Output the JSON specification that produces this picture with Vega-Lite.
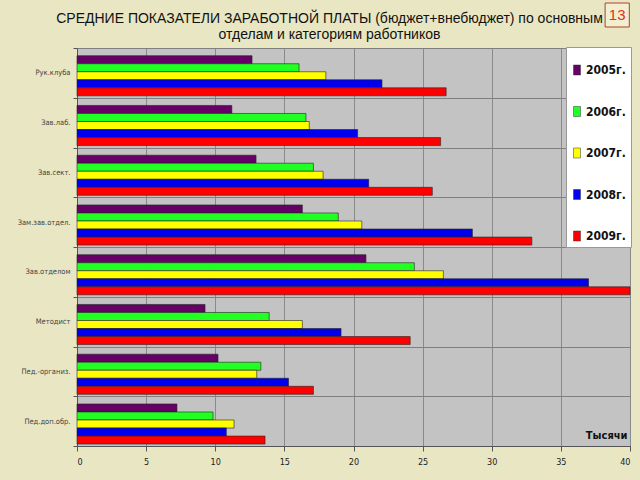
{
  "$schema": "https://vega.github.io/schema/vega-lite/v6.json",
  "width": 553,
  "height": 398,
  "autosize": {"type": "none"},
  "padding": {"left": 77, "top": 48, "right": 10, "bottom": 34},
  "background": "#e9e7c3",
  "title": {
    "text": ["СРЕДНИЕ ПОКАЗАТЕЛИ ЗАРАБОТНОЙ ПЛАТЫ (бюджет+внебюджет) по основным", "отделам и категориям работников"],
    "anchor": "middle",
    "frame": "group",
    "dx": -24,
    "dy": 45,
    "offset": 6,
    "fontSize": 14,
    "font": "Liberation Sans",
    "fontWeight": "normal",
    "color": "#111111",
    "lineHeight": 16
  },
  "config": {
    "view": {"fill": "#c3c3c3", "stroke": "#7a7a7a"}
  },
  "layer": [
    {
      "data": {
        "values": [
          {"cat": "Рук.клуба", "year": "2005г.", "v": 12.66},
          {"cat": "Рук.клуба", "year": "2006г.", "v": 16.06},
          {"cat": "Рук.клуба", "year": "2007г.", "v": 18.0},
          {"cat": "Рук.клуба", "year": "2008г.", "v": 22.06},
          {"cat": "Рук.клуба", "year": "2009г.", "v": 26.7},
          {"cat": "Зав.лаб.", "year": "2005г.", "v": 11.2},
          {"cat": "Зав.лаб.", "year": "2006г.", "v": 16.56},
          {"cat": "Зав.лаб.", "year": "2007г.", "v": 16.8},
          {"cat": "Зав.лаб.", "year": "2008г.", "v": 20.3},
          {"cat": "Зав.лаб.", "year": "2009г.", "v": 26.3},
          {"cat": "Зав.сект.", "year": "2005г.", "v": 12.95},
          {"cat": "Зав.сект.", "year": "2006г.", "v": 17.1},
          {"cat": "Зав.сект.", "year": "2007г.", "v": 17.8},
          {"cat": "Зав.сект.", "year": "2008г.", "v": 21.1},
          {"cat": "Зав.сект.", "year": "2009г.", "v": 25.7},
          {"cat": "Зам.зав.отдел.", "year": "2005г.", "v": 16.3},
          {"cat": "Зам.зав.отдел.", "year": "2006г.", "v": 18.9},
          {"cat": "Зам.зав.отдел.", "year": "2007г.", "v": 20.6},
          {"cat": "Зам.зав.отдел.", "year": "2008г.", "v": 28.6},
          {"cat": "Зам.зав.отдел.", "year": "2009г.", "v": 32.9},
          {"cat": "Зав.отделом", "year": "2005г.", "v": 20.9},
          {"cat": "Зав.отделом", "year": "2006г.", "v": 24.4},
          {"cat": "Зав.отделом", "year": "2007г.", "v": 26.5},
          {"cat": "Зав.отделом", "year": "2008г.", "v": 37.0},
          {"cat": "Зав.отделом", "year": "2009г.", "v": 40.0},
          {"cat": "Методист", "year": "2005г.", "v": 9.26},
          {"cat": "Методист", "year": "2006г.", "v": 13.9},
          {"cat": "Методист", "year": "2007г.", "v": 16.3},
          {"cat": "Методист", "year": "2008г.", "v": 19.1},
          {"cat": "Методист", "year": "2009г.", "v": 24.1},
          {"cat": "Пед.-организ.", "year": "2005г.", "v": 10.2},
          {"cat": "Пед.-организ.", "year": "2006г.", "v": 13.3},
          {"cat": "Пед.-организ.", "year": "2007г.", "v": 13.0},
          {"cat": "Пед.-организ.", "year": "2008г.", "v": 15.3},
          {"cat": "Пед.-организ.", "year": "2009г.", "v": 17.1},
          {"cat": "Пед.доп.обр.", "year": "2005г.", "v": 7.23},
          {"cat": "Пед.доп.обр.", "year": "2006г.", "v": 9.84},
          {"cat": "Пед.доп.обр.", "year": "2007г.", "v": 11.36},
          {"cat": "Пед.доп.обр.", "year": "2008г.", "v": 10.8},
          {"cat": "Пед.доп.обр.", "year": "2009г.", "v": 13.6}
        ]
      },
      "mark": {"type": "bar", "stroke": "#222222", "strokeWidth": 0.6},
      "encoding": {
        "y": {
          "field": "cat",
          "type": "nominal",
          "sort": ["Рук.клуба", "Зав.лаб.", "Зав.сект.", "Зам.зав.отдел.", "Зав.отделом", "Методист", "Пед.-организ.", "Пед.доп.обр."],
          "scale": {"paddingInner": 0, "paddingOuter": 0},
          "axis": {
            "title": null,
            "grid": true,
            "tickBand": "extent",
            "gridColor": "#808080",
            "labelFontSize": 7.5,
            "labelFont": "DejaVu Sans Condensed, Liberation Sans, sans-serif",
            "labelColor": "#444444",
            "labelPadding": 3,
            "tickSize": 4,
            "tickColor": "#555555",
            "domainColor": "#555555"
          }
        },
        "yOffset": {
          "field": "year",
          "type": "nominal",
          "scale": {"paddingInner": 0, "paddingOuter": 0.6, "align": 0.8}
        },
        "x": {
          "field": "v",
          "type": "quantitative",
          "scale": {"domain": [0, 40], "nice": false},
          "axis": {
            "values": [0, 5, 10, 15, 20, 25, 30, 35, 40],
            "grid": true,
            "gridColor": "#8a8a8a",
            "labelFontSize": 9,
            "labelFont": "DejaVu Sans Condensed, Liberation Sans, sans-serif",
            "labelColor": "#222222",
            "labelPadding": 6,
            "tickColor": "#555555",
            "domainColor": "#555555",
            "title": "Тысячи",
            "titleX": 550,
            "titleY": -6,
            "titleAlign": "right",
            "titleBaseline": "bottom",
            "titleFontSize": 11,
            "titleFont": "DejaVu Sans Condensed, Liberation Sans, sans-serif",
            "titleFontWeight": "bold",
            "titleColor": "#111111"
          }
        },
        "color": {
          "field": "year",
          "type": "nominal",
          "scale": {
            "domain": ["2005г.", "2006г.", "2007г.", "2008г.", "2009г."],
            "range": ["#660066", "#22ff22", "#ffff00", "#0000ee", "#ff0000"]
          },
          "legend": {
            "orient": "none",
            "legendX": 489,
            "legendY": -1,
            "title": " ",
            "titleFontSize": 10,
            "titlePadding": 2,
            "fillColor": "#ffffff",
            "strokeColor": "#999999",
            "padding": 5,
            "rowPadding": 29.5,
            "labelFontSize": 12,
            "labelFont": "DejaVu Sans Condensed, Liberation Sans, sans-serif",
            "labelFontWeight": "bold",
            "labelColor": "#111111",
            "labelOffset": 3,
            "symbolType": "M-0.7,-1H0.7V1H-0.7Z",
            "symbolSize": 100,
            "symbolStrokeColor": "#333333",
            "symbolStrokeWidth": 0.5,
            "symbolOpacity": 1
          }
        }
      }
    },
    {
      "data": {"values": [{"t": "13"}]},
      "mark": {"type": "rect", "fill": "#f2efd0", "stroke": "#b04030", "strokeWidth": 1},
      "encoding": {
        "x": {"datum": 38.2},
        "x2": {"datum": 39.95},
        "y": {"value": -45},
        "y2": {"value": -21}
      }
    },
    {
      "data": {"values": [{"t": "13"}]},
      "mark": {"type": "text", "color": "#e03020", "fontSize": 15, "font": "Liberation Sans", "align": "center", "baseline": "middle"},
      "encoding": {
        "x": {"datum": 39.07},
        "y": {"value": -33},
        "text": {"field": "t"}
      }
    }
  ]
}
